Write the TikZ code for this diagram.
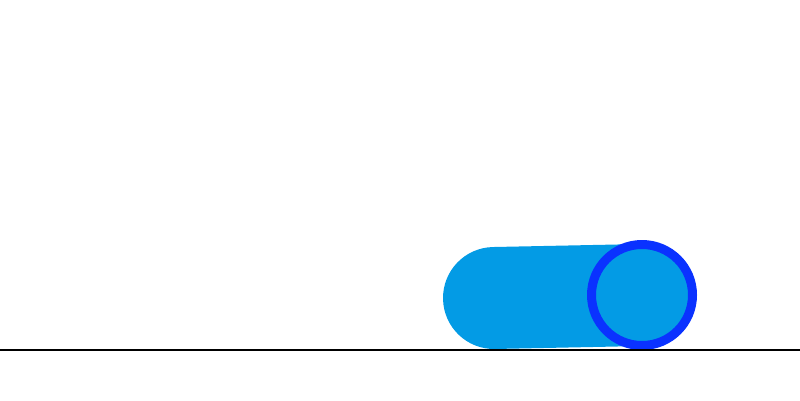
\documentclass[tikz,border=0pt]{standalone}
\definecolor{rollfill}{HTML}{039BE5}
\definecolor{rimblue}{HTML}{0A32FF}
\begin{document}
\begin{tikzpicture}[x=0.02cm,y=0.02cm]
\useasboundingbox (0,0) rectangle (800,400);
\coordinate (tail) at (494,102);
\coordinate (head) at (642,105);
% trail of the rolling ball
\draw[rollfill,line width=2.04cm,line cap=round] (tail) -- (head);
% ball
\draw[rimblue,fill=rollfill,line width=0.18cm] (head) circle (50.5);
% ground
\coordinate (gl) at (0,50);
\coordinate (gr) at (800,50);
\draw[line width=0.045cm] (gl) -- (gr);
\end{tikzpicture}
\end{document}
